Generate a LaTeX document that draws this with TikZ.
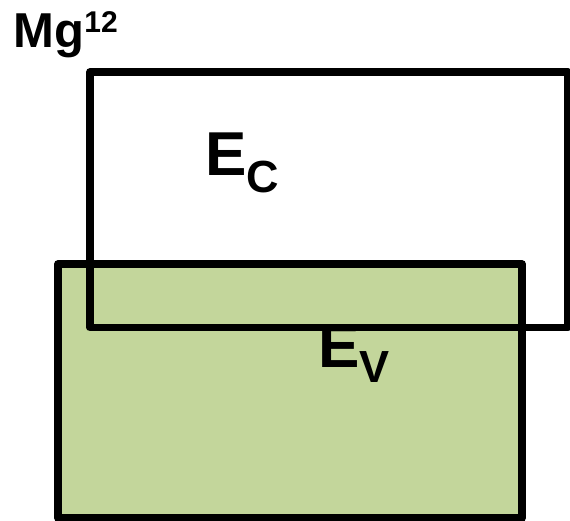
\documentclass[tikz,border=0pt]{standalone}
\usepackage{fontspec}
\setmainfont{Liberation Sans}
\usepackage{tikz}
\usepackage{xcolor}
\definecolor{bandgreen}{RGB}{195,214,155}
\newcommand{\bandlab}[2]{\fontsize{62}{62}\selectfont\bfseries E\raisebox{-#2}{\fontsize{45}{45}\selectfont #1}}

\begin{document}
\begin{tikzpicture}[
  x=1pt, y=1pt,
  band/.style={draw=black, line width=7.5pt, line join=round},
  lab/.style={inner sep=0pt, anchor=base west}
]
\useasboundingbox (0,0) rectangle (570,521);
% valence band
\draw[band, fill=bandgreen] (58,3) rectangle (522,257);
% conduction band
\draw[band] (90,449) rectangle (568,193.5);
% labels
\node[lab] (mg) at (13.5,473) {\fontsize{49}{49}\selectfont\bfseries Mg\raisebox{15pt}{\fontsize{30}{30}\selectfont 12}};
\node[lab] (ec) at (205,345) {\bandlab{C}{17pt}};
\node[lab] (ev) at (318,153) {\bandlab{V}{15pt}};
\end{tikzpicture}
\end{document}
